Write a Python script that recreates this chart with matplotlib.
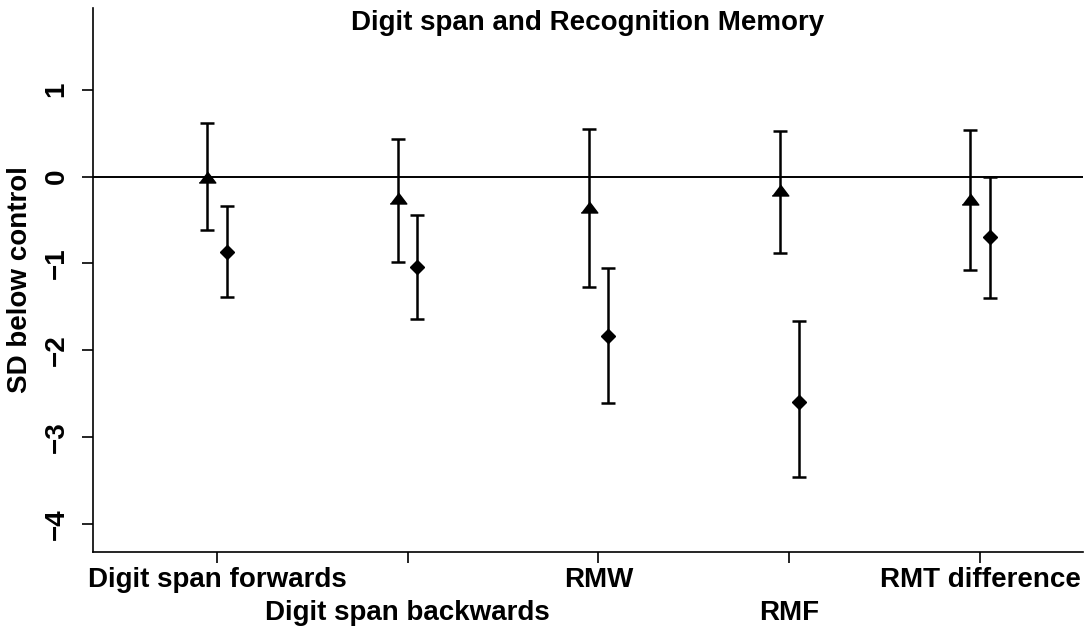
import matplotlib
matplotlib.use("Agg")
from matplotlib import pyplot as plt
import numpy as np

plt.rcParams['font.family'] = ['Liberation Sans', 'DejaVu Sans']
plt.rcParams['font.weight'] = 'bold'

tests = ["Digit span forwards", "Digit span backwards", "RMW", "RMF", "RMT difference"]

# triangles (first group)
tri_mean = [0.0, -0.25, -0.35, -0.15, -0.26]
tri_lo = [-0.61, -0.98, -1.27, -0.885, -1.07]
tri_hi = [0.62, 0.43, 0.547, 0.52, 0.54]

# diamonds (second group)
dia_mean = [-0.865, -1.045, -1.835, -2.59, -0.70]
dia_lo = [-1.38, -1.64, -2.61, -3.46, -1.40]
dia_hi = [-0.34, -0.44, -1.056, -1.66, -0.01]

x = np.arange(1, len(tests) + 1)
off = 0.05
fs = 20

fig = plt.figure(figsize=(10.92, 6.31), dpi=100)
ax = fig.add_axes([93/1092, 1 - 552/631, (1083-93)/1092, (552-8)/631])

ax.axhline(0, color="black", lw=1.4, zorder=1)

tri = [(-1, -0.66), (1, -0.66), (0, 0.66)]
tm = np.array(tri_mean)
ax.errorbar(x - off, tm, yerr=[tm - np.array(tri_lo), np.array(tri_hi) - tm],
            fmt="none", ecolor="black", elinewidth=1.8, capsize=5, capthick=1.8, zorder=2)
ax.plot(x - off, tm, linestyle="none", marker=tri, markersize=12, color="black", zorder=3)

dm = np.array(dia_mean)
ax.errorbar(x + off, dm, yerr=[dm - np.array(dia_lo), np.array(dia_hi) - dm],
            fmt="none", ecolor="black", elinewidth=1.8, capsize=5, capthick=1.8, zorder=2)
ax.plot(x + off, dm, linestyle="none", marker="D", markersize=7.5, color="black", zorder=3)

ax.set_xlim(0.35, 5.54)
ax.set_ylim(-4.32, 1.94)

# staggered category labels: odd ones on the first row, even ones on the second
ax.set_xticks(x[::2])
ax.set_xticklabels(tests[::2], fontsize=fs, fontweight="bold")
ax.set_xticks(x[1::2], minor=True)
ax.set_xticklabels(tests[1::2], minor=True, fontsize=fs, fontweight="bold")
ax.tick_params(axis="x", which="major", length=8, width=1.2, pad=3)
ax.tick_params(axis="x", which="minor", length=8, width=1.2, pad=26.5)

ax.set_yticks([-4, -3, -2, -1, 0, 1])
ax.set_yticklabels(["\u22124", "\u22123", "\u22122", "\u22121", "0", "1"],
                   rotation=90, va="center", fontsize=fs, fontweight="bold")
ax.tick_params(axis="y", length=8, width=1.2, pad=9)

ax.spines["top"].set_visible(False)
ax.spines["right"].set_visible(False)
ax.spines["left"].set_linewidth(1.2)
ax.spines["bottom"].set_linewidth(1.2)

fig.text(20/1092, 1 - 280/631, "SD below control", rotation=90, ha="center", va="center",
         fontsize=fs, fontweight="bold")
fig.text(588/1092, 1 - 30/631, "Digit span and Recognition Memory", ha="center", va="baseline",
         fontsize=fs, fontweight="bold")

fig.savefig("out.png", dpi=100)
